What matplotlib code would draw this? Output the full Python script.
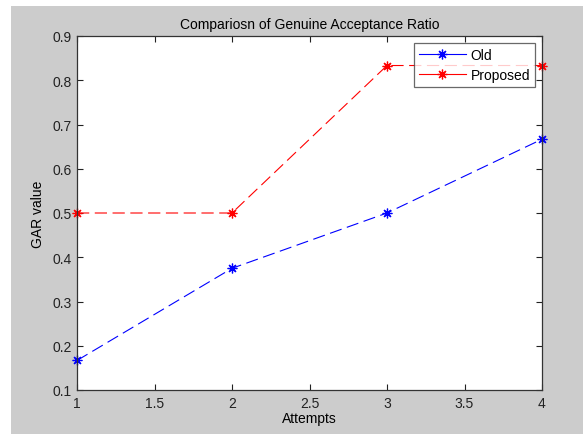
import matplotlib
matplotlib.use("Agg")
import matplotlib.pyplot as plt
from matplotlib.patches import Rectangle

attempts = [1, 2, 3, 4]
old_gar = [0.1667, 0.375, 0.5, 0.6667]
proposed_gar = [0.5, 0.5, 0.8333, 0.8333]
xticks = [1, 1.5, 2, 2.5, 3, 3.5, 4]
yticks = [0.1, 0.2, 0.3, 0.4, 0.5, 0.6, 0.7, 0.8, 0.9]

plt.rcParams['font.family'] = ['Liberation Sans', 'DejaVu Sans']
FS = 10

W, H = 583, 435
fig = plt.figure(figsize=(W/100, H/100), dpi=100, facecolor='white')
fig.patches.append(Rectangle((11/W, 0), 1 - 11/W, (H-7)/H, transform=fig.transFigure,
                             facecolor='#cccccc', edgecolor='none', zorder=-10))

left, right, top, bottom = 77, 542, 37, 391
ax = fig.add_axes([left/W, 1 - bottom/H, (right-left)/W, (bottom-top)/H])
ax.set_facecolor('white')

mk = (8, 2, 0)
ax.plot(attempts, old_gar, color='blue', linestyle=(0, (11, 5)), linewidth=0.8,
        marker=mk, markersize=7, markeredgewidth=0.9, label='Old', clip_on=False)
ax.plot(attempts, proposed_gar, color='red', linestyle=(0, (11, 5)), linewidth=0.8,
        marker=mk, markersize=7, markeredgewidth=0.9, label='Proposed', clip_on=False)

ax.set_xlim(1, 4)
ax.set_ylim(0.1, 0.9)
ax.set_xticks(xticks)
ax.set_xticklabels(['1', '1.5', '2', '2.5', '3', '3.5', '4'])
ax.set_yticks(yticks)
ax.set_yticklabels(['0.1', '0.2', '0.3', '0.4', '0.5', '0.6', '0.7', '0.8', '0.9'])
ax.tick_params(direction='in', top=True, right=True, length=4, width=0.8,
               labelsize=FS, colors='#222222', pad=4)
for s in ax.spines.values():
    s.set_color('#333333')
    s.set_linewidth(0.9)

ax.set_title('Compariosn of Genuine Acceptance Ratio', fontsize=FS, pad=6)
ax.set_xlabel('Attempts', fontsize=FS, labelpad=1)
ax.set_ylabel('GAR value', fontsize=FS, labelpad=5)

leg = ax.legend(loc='upper right', bbox_to_anchor=(0.985, 0.98), fontsize=FS,
                frameon=True, fancybox=False, edgecolor='#444444', borderpad=0.35,
                handlelength=3.4, handletextpad=0.35, labelspacing=0.45, borderaxespad=0.0)
leg.get_frame().set_linewidth(0.9)
for l in leg.get_lines():
    l.set_linestyle('-')

fig.savefig('out.png', dpi=100, facecolor='white')
